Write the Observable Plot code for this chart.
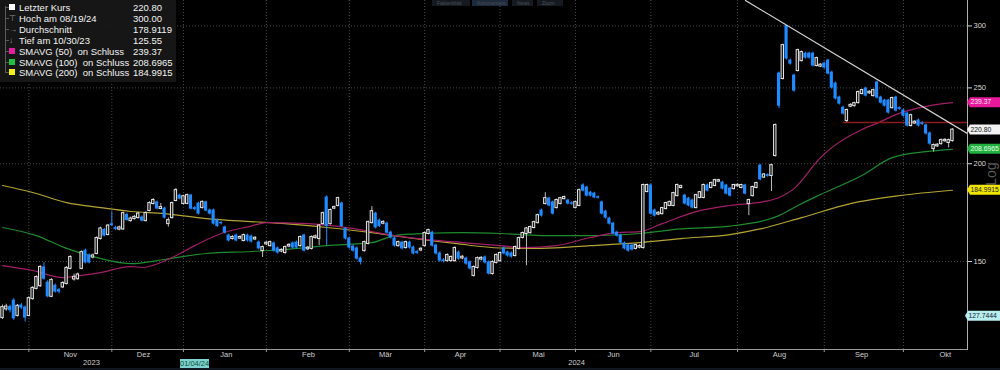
<!DOCTYPE html>
<html><head><meta charset="utf-8">
<script src="https://cdn.jsdelivr.net/npm/d3@7"></script>
<script src="https://cdn.jsdelivr.net/npm/@observablehq/plot@0.6"></script>
<style>
html,body{margin:0;padding:0;background:#000;}
#wrap{position:relative;width:1000px;height:370px;overflow:hidden;background:#000;font-family:"Liberation Sans",Arial,sans-serif;}
#legend{position:absolute;left:0;top:0;width:176px;height:82px;background:rgba(24,24,24,0.93);color:#f2f2f2;font-size:9.5px;}
#legend .row{position:absolute;left:0;height:11px;line-height:11px;white-space:pre;}
#legend .nm{position:absolute;left:19px;}
#legend .vl{position:absolute;left:133px;}
#legend .mk{position:absolute;left:9px;top:2px;width:6px;height:6px;}
#legend .gl{position:absolute;left:9px;top:0;font-size:8px;color:#999;}
.btn{position:absolute;top:0;height:6px;background:#161a20;color:#4a4f58;font-size:5px;line-height:6px;padding-left:5px;box-sizing:border-box;overflow:hidden;}
#datetag{position:absolute;left:180px;top:359px;width:29px;height:9px;background:#7fd0d0;color:#053;font-size:7.5px;line-height:9px;text-align:center;}
#strip{position:absolute;left:0;top:368px;width:1000px;height:2px;background:#0f1620;}
</style></head>
<body><div id="wrap"></div>
<script>
// ---------- data ----------
const opens = [
127.2,130.5,131.2,133.7,128.0,131.8,131.0,128.0,134.5,138.6,
139.7,147.4,141.0,135.4,139.7,137.9,139.2,140.6,147.0,142.5,
142.6,147.0,154.9,152.7,152.0,153.6,160.5,164.6,162.4,167.4,
165.5,165.0,165.1,172.0,169.2,170.2,170.7,170.7,169.2,174.3,
177.9,178.5,175.3,175.3,167.7,170.7,179.5,182.1,177.9,178.0,
182.1,175.5,177.9,175.8,178.5,174.3,174.3,169.2,168.0,165.8,
161.9,160.5,161.9,160.7,159.6,161.9,161.4,160.3,158.6,154.9,
158.0,157.2,158.2,155.9,154.7,154.0,157.0,158.2,158.6,157.2,
161.9,155.7,155.9,161.0,160.5,167.7,181.1,167.7,175.5,176.9,
177.9,165.1,160.5,156.7,155.9,151.3,154.9,158.2,168.2,172.7,
169.2,167.9,167.7,163.3,160.5,157.2,158.6,156.3,158.6,156.3,
154.2,155.2,157.2,162.9,163.3,157.2,153.6,150.5,150.4,150.4,
150.4,154.0,151.6,151.3,149.6,144.0,147.4,151.1,151.8,149.6,
144.8,149.6,150.4,155.9,154.0,153.6,152.7,155.9,161.0,162.9,
163.3,165.8,168.2,174.3,177.9,180.5,178.5,175.8,177.9,180.5,
179.5,178.0,175.8,176.9,187.6,186.5,183.7,183.2,181.2,178.5,
173.7,170.2,167.7,163.3,161.9,158.2,157.2,157.2,155.9,156.5,
156.3,184.3,187.6,174.3,172.5,172.7,175.3,176.9,176.9,182.1,
186.5,182.1,180.5,179.5,175.8,181.1,181.1,187.6,186.5,187.6,
190.0,189.2,187.6,185.9,185.9,187.4,186.5,187.6,177.9,182.1,
186.5,198.9,192.3,193.4,193.2,204.9,260.8,257.0,300.0,270.9,
259.2,263.1,270.9,276.5,276.5,276.5,267.0,266.5,268.5,270.9,
261.5,253.2,243.0,235.9,227.1,236.9,237.3,239.4,245.9,249.5,
246.4,244.4,254.0,243.0,240.8,240.8,235.9,243.0,235.5,233.9,
231.8,223.8,225.5,227.1,225.3,223.8,218.6,209.1,210.8,212.2,
214.0,212.9,214.1];
const highs = [
132.0,132.3,132.0,134.5,132.2,132.6,131.6,135.2,139.3,143.8,
148.2,149.5,141.8,142.6,140.4,138.6,141.4,147.8,152.6,144.5,
145.0,154.8,155.6,153.4,153.4,161.3,165.9,165.4,167.3,173.7,
166.4,166.5,173.5,173.0,171.0,171.8,173.4,171.5,173.6,178.8,
180.5,179.2,177.9,176.0,170.5,178.7,185.9,182.9,182.3,182.9,
182.8,176.4,178.6,179.3,179.2,175.0,175.0,169.9,168.8,166.5,
162.6,161.8,162.6,161.8,162.6,162.6,162.1,161.4,159.3,157.0,
159.1,159.3,158.9,156.6,155.8,157.0,158.1,158.9,159.3,161.7,
162.6,156.8,161.7,162.2,167.3,173.5,182.0,175.1,176.6,181.3,
178.6,165.8,161.2,157.4,156.6,152.0,159.3,169.0,176.3,173.4,
169.9,169.1,168.4,164.0,161.2,159.3,159.3,159.3,159.3,157.0,
155.0,156.3,163.6,165.0,164.0,157.9,154.3,151.3,153.4,152.5,
156.6,154.7,152.7,152.0,150.3,148.1,152.0,152.2,152.5,150.3,
150.3,153.4,154.3,156.6,154.7,154.3,157.0,161.2,163.6,165.8,
166.5,168.9,172.4,175.0,183.7,181.2,179.2,180.2,181.2,181.9,
180.2,178.8,179.2,185.6,188.6,187.2,184.4,183.9,182.0,179.2,
174.4,170.9,168.4,164.0,162.6,158.9,157.9,157.9,157.9,157.6,
188.4,188.4,188.4,175.0,173.7,176.0,178.6,179.2,183.9,188.4,
187.8,182.8,181.2,180.2,182.8,184.4,188.4,188.4,189.5,191.1,
191.1,189.9,188.3,186.6,188.3,188.5,188.3,188.3,180.2,187.2,
189.4,199.7,194.3,194.2,199.7,224.8,262.0,284.3,300.0,272.0,
260.3,280.2,278.6,277.7,277.7,277.7,273.7,268.5,269.6,272.0,
262.6,254.3,244.0,236.9,234.9,238.6,239.7,247.6,249.0,250.5,
247.9,249.0,255.0,244.0,241.8,241.8,243.3,244.0,236.5,234.9,
232.8,231.4,227.0,228.1,226.3,224.8,219.6,212.0,212.2,215.1,
215.3,215.1,221.8];
const lows = [
126.5,129.6,129.0,126.2,127.4,130.2,125.55,127.5,133.9,138.0,
139.0,142.0,134.8,134.9,136.7,136.4,138.6,140.0,146.4,141.6,
142.0,146.4,149.0,149.0,151.2,153.0,159.8,161.2,161.8,166.2,
164.3,164.2,164.4,168.8,168.4,169.4,170.0,168.5,168.6,173.6,
177.2,174.6,174.7,170.0,166.0,170.0,178.8,179.8,177.2,177.3,
174.6,174.2,172.0,175.1,173.6,172.0,167.0,165.8,167.1,162.6,
158.9,159.8,158.9,160.0,158.9,158.9,158.4,159.5,155.2,151.8,
157.2,156.5,154.2,153.3,153.9,153.3,156.2,155.6,155.6,156.5,
154.2,154.9,155.2,160.2,157.2,167.0,157.2,167.0,174.7,176.2,
165.8,159.8,155.6,154.2,150.6,148.5,154.2,157.5,167.5,165.1,
165.8,167.1,162.6,160.3,156.5,156.5,155.2,155.6,155.6,152.9,
153.1,154.4,156.5,162.2,156.5,152.9,149.7,149.4,149.7,149.7,
149.7,150.6,150.8,148.4,146.3,143.3,146.7,150.3,148.9,144.1,
144.1,148.9,149.7,152.9,152.0,151.5,152.0,155.2,160.3,148.2,
162.6,165.1,167.5,171.0,177.2,176.2,172.0,175.1,177.2,179.8,
177.2,177.0,175.1,176.2,184.1,181.4,181.4,180.4,180.2,172.0,
170.0,167.0,162.2,161.2,157.9,155.2,154.2,154.7,155.2,155.7,
155.6,183.6,172.0,171.0,171.7,172.0,174.6,176.2,176.2,181.4,
185.7,177.2,176.2,175.1,175.1,180.4,180.4,184.1,185.8,186.9,
189.2,185.2,182.5,181.4,185.2,186.6,185.8,182.5,171.7,181.4,
185.8,190.2,191.5,192.2,184.3,204.0,235.2,255.9,271.3,267.4,
246.9,262.0,269.8,272.1,272.1,265.9,265.9,265.4,264.3,259.7,
249.1,241.3,237.7,230.8,225.8,235.9,236.3,238.4,244.9,243.4,
245.3,243.4,242.0,238.4,236.3,231.5,234.9,232.9,234.0,229.4,
222.8,222.8,224.5,222.8,223.9,217.6,211.2,207.0,209.8,211.2,
213.0,209.5,213.1];
const closes = [
131.0,131.2,130.0,126.9,131.5,131.0,127.2,134.5,138.6,143.1,
147.4,142.6,135.4,141.9,137.3,137.3,140.6,147.0,151.8,143.2,
144.2,154.0,149.6,149.6,152.5,160.5,165.1,161.9,166.5,167.0,
165.1,165.6,172.7,169.5,170.0,170.8,172.5,169.2,172.7,177.9,
179.5,175.3,175.8,170.7,169.2,177.9,184.8,180.5,181.5,182.1,
175.3,175.0,172.7,178.5,174.3,172.7,167.7,166.5,167.9,163.3,
159.6,161.0,159.6,161.0,161.9,159.6,159.1,160.6,155.9,156.3,
158.3,158.6,154.9,154.0,155.0,156.3,157.3,156.3,156.3,161.0,
154.9,156.0,161.0,161.3,166.5,172.7,166.5,174.3,175.8,180.5,
166.5,160.5,156.3,154.9,151.3,149.8,158.6,168.2,173.7,165.8,
166.5,168.3,163.3,161.0,157.2,158.6,155.9,158.6,156.3,153.6,
153.9,155.5,162.9,164.3,157.2,153.6,150.4,150.2,152.7,151.8,
155.9,151.3,151.9,149.1,147.0,147.4,151.3,151.4,149.6,144.8,
149.6,152.7,153.6,153.6,152.7,152.2,156.3,160.5,162.9,165.1,
165.8,168.2,171.7,171.7,180.5,176.9,172.7,179.5,180.5,181.1,
177.9,177.8,178.5,184.8,184.8,182.1,182.1,181.1,181.0,172.7,
170.7,167.7,162.9,161.9,158.6,155.9,154.9,155.4,157.2,156.8,
187.6,187.6,172.7,171.7,172.9,175.3,177.9,178.5,183.2,187.6,
187.0,177.9,176.9,175.8,182.1,183.7,187.6,184.8,188.7,190.3,
190.3,185.9,183.2,182.1,187.6,187.7,187.6,183.2,179.5,186.5,
188.7,191.0,193.5,193.0,198.9,223.8,237.3,283.1,272.5,268.5,
248.0,279.0,277.4,273.3,273.3,267.0,272.5,267.3,265.4,260.8,
250.2,242.3,238.7,231.8,233.9,237.5,238.7,246.6,248.0,244.4,
246.8,248.0,243.0,239.4,237.3,232.5,242.3,233.9,235.0,230.4,
223.8,230.4,226.0,223.8,224.9,218.6,212.2,211.0,211.2,214.1,
214.3,214.1,220.8];

// moving averages, read at sample trading days
const sma50Idx = [0,8,16,21,26,34,37,45,51,58,66,70,81,90,98,104,113,122,132,138,147,156,163,169,175,184,193,202,206,210,217,220,228,233,237,246,252];
const sma50 = [148.2,146.1,143.1,144.0,145.2,147.8,147.4,151.8,157.2,162.9,166.5,168.2,167.7,166.1,163.8,161.9,160.0,158.6,157.2,156.3,157.2,161.0,163.3,163.8,167.7,173.7,176.9,178.9,181.1,185.9,203.6,209.7,221.2,226.4,231.1,237.3,239.4];
const sma100Idx = [0,9,17,23,34,43,54,66,75,86,98,104,112,122,132,143,156,169,180,193,206,211,217,228,236,245,252];
const sma100 = [165.8,161.9,155.9,152.7,149.1,150.9,153.6,154.5,155.4,157.2,158.6,161.9,162.9,163.3,162.9,161.9,161.9,162.9,165.1,166.5,171.7,176.9,182.7,193.2,203.6,207.3,208.7];
const sma200Idx = [0,8,17,26,34,43,54,66,75,86,98,107,120,132,143,156,169,180,193,201,212,225,238,252];
const sma200 = [187.6,183.8,178.4,175.8,173.8,172.7,170.2,168.7,167.7,165.8,163.3,161.0,158.2,156.1,155.9,157.2,158.6,160.5,162.4,165.1,170.7,177.9,182.1,185.0];

// drawn lines
const trendIdx = [197.1, 256];
const trendVal = [323.3, 218.6];
const supportIdx = [223, 256];
const supportVal = 225.8;

// axes
const monthNames = ["Nov","Dez","Jan","Feb","Mär","Apr","Mai","Jun","Jul","Aug","Sep","Okt"];
const monthStartIdx = [7,29,48,70,92,112,132,152,172,195,218,239];
const monthLabelIdx = [18,37.4,59.4,81.2,101.6,121.5,142.2,162.1,183.5,206.1,227.9,250.1];
const yearNames = ["2023","2024"];
const yearLabelIdx = [23.6,152.3];
const yTicks = [150,200,250,300];

// legend and last-value tags
const legendNames = ["Letzter Kurs","Hoch am 08/19/24","Durchschnitt","Tief am 10/30/23","SMAVG (50)  on Schluss","SMAVG (100)  on Schluss","SMAVG (200)  on Schluss"];
const legendValues = ["220.80","300.00","178.9119","125.55","239.37","208.6965","184.9915"];
const tagValues = [239.37, 220.80, 208.6965, 184.9915, 127.7444];
const tagTexts = ["239.37","220.80","208.6965","184.9915","127.7444"];

// ---------- styles ----------
const UP = "#e4e4e4", DOWN = "#1f8bff";
const C50 = "#a01f68", C100 = "#1f8a2e", C200 = "#b3a236";
const tagBg = ["#e8189a","#f2f2f2","#22b040","#f0e400","#b8eeee"];
const tagFg = ["#ffe6f4","#111","#eaffea","#222","#123"];
const legendMarks = [["sq","#ffffff"],["gl","\u22a4"],["gl","\u2192"],["gl","\u2193"],["sq","#e020a0"],["sq","#20c040"],["sq","#f0f020"]];

// ---------- build ----------
const candles = closes.map((c, i) => ({i, o: opens[i], h: highs[i], l: lows[i], c}));
const ups = candles.filter(d => d.c >= d.o);
const downs = candles.filter(d => d.c < d.o);
const ser = (idx, vals) => idx.map((i, k) => ({i, v: vals[k]}));

const plot = Plot.plot({
  width: 1000, height: 370,
  marginTop: 0, marginBottom: 21, marginLeft: 0, marginRight: 33,
  style: {background: "#000", color: "#ccc", fontFamily: "Liberation Sans, Arial, sans-serif", overflow: "visible", maxWidth: "none"},
  x: {type: "linear", domain: [-0.53, 256], axis: null},
  y: {type: "log", domain: [115.8, 323.3], axis: null},
  marks: [
    Plot.ruleX(monthStartIdx, {stroke: "#4a4a4a", strokeDasharray: "1,2"}),
    Plot.ruleY(yTicks, {stroke: "#4a4a4a", strokeDasharray: "1,2"}),
    Plot.line(ser(sma200Idx, sma200), {x: "i", y: "v", stroke: C200, strokeWidth: 1.2, curve: "monotone-x"}),
    Plot.line(ser(sma100Idx, sma100), {x: "i", y: "v", stroke: C100, strokeWidth: 1.2, curve: "monotone-x"}),
    Plot.line(ser(sma50Idx, sma50), {x: "i", y: "v", stroke: C50, strokeWidth: 1.2, curve: "monotone-x"}),
    Plot.ruleY([{y: supportVal, x1: supportIdx[0], x2: supportIdx[1]}], {y: "y", x1: "x1", x2: "x2", stroke: "#8a1c1c", strokeWidth: 1.6}),
    Plot.ruleX(downs, {x: "i", y1: "l", y2: "h", stroke: DOWN, strokeWidth: 1}),
    Plot.ruleX(ups, {x: "i", y1: "l", y2: "h", stroke: "#bdbdbd", strokeWidth: 1}),
    Plot.rect(downs, {x1: d => d.i - 0.42, x2: d => d.i + 0.42, y1: "o", y2: "c", fill: DOWN, insetTop: -0.5, insetBottom: -0.5}),
    Plot.rect(ups, {x1: d => d.i - 0.32, x2: d => d.i + 0.32, y1: "o", y2: "c", fill: "#1a1a1a", stroke: UP, strokeWidth: 1, insetTop: -0.5, insetBottom: -0.5}),
    Plot.line(ser(trendIdx, trendVal), {x: "i", y: "v", stroke: "#d6d6d6", strokeWidth: 1.2, clip: true}),
    Plot.frame({anchor: "bottom", stroke: "#9a9a9a"}),
    Plot.frame({anchor: "right", stroke: "#b0b0b0"}),
    Plot.axisY(yTicks, {anchor: "right", tickSize: 4, tickPadding: 2, fontSize: 7.5, color: "#d8d8d8", tickFormat: d => String(d)}),
    Plot.axisX(monthStartIdx, {anchor: "bottom", tickSize: 3, tickPadding: 0, tickFormat: () => "", color: "#9a9a9a"}),
    Plot.text(monthLabelIdx.map((i, k) => ({i, t: monthNames[k]})), {x: "i", text: "t", frameAnchor: "bottom", dy: 7, fill: "#cfcfcf", fontSize: 7.5}),
    Plot.text(yearLabelIdx.map((i, k) => ({i, t: yearNames[k]})), {x: "i", text: "t", frameAnchor: "bottom", dy: 15, fill: "#cfcfcf", fontSize: 7.5})
  ]
});

const wrap = document.getElementById("wrap");
wrap.appendChild(plot);

// last-value tags on the right axis, positioned by Plot's y scale
const ys = plot.scale("y");
const svg = d3.select(plot);
svg.append("text").attr("transform", "translate(991,174) rotate(-90)").attr("text-anchor", "middle").attr("dy", "0.35em")
  .attr("font-size", 14).attr("fill", "#5a5a5a").attr("font-family", "Liberation Sans, Arial, sans-serif").text("Log");
const tg = svg.append("g").attr("font-family", "Liberation Sans, Arial, sans-serif").attr("font-size", 6.8).attr("text-anchor", "start");
tagValues.forEach((v, k) => {
  const yy = ys.apply(v);
  const x0 = k === 4 ? 968 : 970;
  tg.append("path").attr("d", `M${x0 - 3},${yy}L${x0},${yy - 5}H1000V${yy + 5}H${x0}Z`).attr("fill", tagBg[k]);
  tg.append("text").attr("x", x0 + 0.5).attr("y", yy).attr("dy", "0.34em").attr("text-anchor", "start").attr("fill", tagFg[k]).text(tagTexts[k]);
});

// legend box
const lg = document.createElement("div");
lg.id = "legend";
const tree = document.createElement("div");
tree.style.cssText = "position:absolute;left:5px;top:6px;width:1px;height:67px;background:#5a5a5a;";
lg.appendChild(tree);
legendNames.forEach((n, k) => {
  const r = document.createElement("div");
  r.className = "row";
  r.style.top = (2 + k * 10.9) + "px";
  r.style.width = "176px";
  const br = document.createElement("div");
  br.style.cssText = "position:absolute;left:5px;top:5px;width:4px;height:1px;background:#5a5a5a;";
  r.appendChild(br);
  const m = document.createElement("div");
  if (legendMarks[k][0] === "sq") { m.className = "mk"; m.style.background = legendMarks[k][1]; }
  else { m.className = "gl"; m.textContent = legendMarks[k][1]; }
  r.appendChild(m);
  const a = document.createElement("span"); a.className = "nm"; a.textContent = n; r.appendChild(a);
  const b = document.createElement("span"); b.className = "vl"; b.textContent = legendValues[k]; r.appendChild(b);
  lg.appendChild(r);
});
wrap.appendChild(lg);

// faint toolbar buttons at the top
[["Faktenblatt",432,38,"#161a20"],["Kommentare",472,36,"#1c2a3c"],["News",512,21,"#161a20"],["Zoom",537,26,"#161a20"]].forEach(([t, x, w, bg]) => {
  const d = document.createElement("div");
  d.className = "btn"; d.style.left = x + "px"; d.style.width = w + "px"; d.style.background = bg; d.textContent = t;
  wrap.appendChild(d);
});

const dt = document.createElement("div"); dt.id = "datetag"; dt.textContent = "01/04/24"; wrap.appendChild(dt);
const st = document.createElement("div"); st.id = "strip"; wrap.appendChild(st);
</script>
</body></html>
